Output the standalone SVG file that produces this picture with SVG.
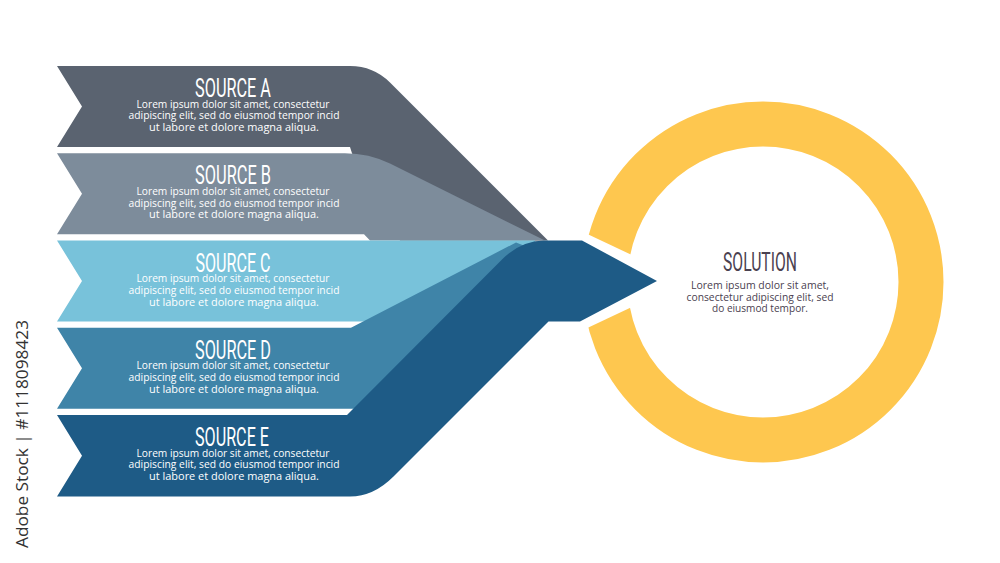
<svg xmlns="http://www.w3.org/2000/svg" width="1000" height="563" viewBox="0 0 1000 563">
<style>
.title{font-family:Roboto,"Liberation Sans",sans-serif;font-size:25px;fill:#fff;text-anchor:middle}
.body{font-family:"Open Sans","Liberation Sans",sans-serif;font-size:10.5px;fill:#fff;text-anchor:middle}
.stitle{font-family:Roboto,"Liberation Sans",sans-serif;font-size:25px;fill:#4a4150;text-anchor:middle}
.sbody{font-family:"Open Sans","Liberation Sans",sans-serif;font-size:10.5px;fill:#4a4150;text-anchor:middle}
</style>
<defs>
<mask id="gap">
<rect x="0" y="0" width="1000" height="563" fill="#fff"/>
<polygon points="560,221.2 687,281 560,340.8" fill="#000"/>
</mask>
</defs>
<rect width="1000" height="563" fill="#fff"/>
<g id="connectors">
<path id="bandA" d="M57,66 H350 Q373.5,66 390,82.5 L548,240.5 L400,240.5 L352,153.25 L350,147 H57 L82,106.5 Z" fill="#5a6370"/>
<path id="bandB" d="M57,153.25 H345 Q369,153.25 390,163.6 L545,240.5 H370 L364,234.25 H57 L82,193.75 Z" fill="#7d8c9b"/>
<path id="bandC" d="M57,240.5 H535 V321.5 H57 L82,281 Z" fill="#78c2da"/>
<path id="bandD" d="M57,327.75 H351 L516,242.5 L548,255 L356,408.75 H57 L82,368.25 Z" fill="#3f84a8"/>
<path id="bandE" d="M57,415 H347 L502,259.5 Q521,240.5 545,240.5 H582 L657,281 L580,321.5 H548.5 L393.5,476.5 Q373.5,496.5 350,496.5 H57 L82,455.75 Z" fill="#1e5b86"/>
</g>
<g id="sourceA">
<text class="title" x="233" y="97" textLength="76" lengthAdjust="spacingAndGlyphs">SOURCE A</text>
<text class="body" x="233" y="107.5" textLength="193" lengthAdjust="spacingAndGlyphs">Lorem ipsum dolor sit amet, consectetur</text>
<text class="body" x="234" y="119.3" textLength="211" lengthAdjust="spacingAndGlyphs">adipiscing elit, sed do eiusmod tempor incid</text>
<text class="body" x="234" y="131" textLength="170" lengthAdjust="spacingAndGlyphs">ut labore et dolore magna aliqua.</text>
</g>
<g id="sourceB">
<text class="title" x="233" y="184.25" textLength="76" lengthAdjust="spacingAndGlyphs">SOURCE B</text>
<text class="body" x="233" y="194.75" textLength="193" lengthAdjust="spacingAndGlyphs">Lorem ipsum dolor sit amet, consectetur</text>
<text class="body" x="234" y="206.55" textLength="211" lengthAdjust="spacingAndGlyphs">adipiscing elit, sed do eiusmod tempor incid</text>
<text class="body" x="234" y="218.25" textLength="170" lengthAdjust="spacingAndGlyphs">ut labore et dolore magna aliqua.</text>
</g>
<g id="sourceC">
<text class="title" x="233" y="271.5" textLength="75" lengthAdjust="spacingAndGlyphs">SOURCE C</text>
<text class="body" x="233" y="282" textLength="193" lengthAdjust="spacingAndGlyphs">Lorem ipsum dolor sit amet, consectetur</text>
<text class="body" x="234" y="293.8" textLength="211" lengthAdjust="spacingAndGlyphs">adipiscing elit, sed do eiusmod tempor incid</text>
<text class="body" x="234" y="305.5" textLength="170" lengthAdjust="spacingAndGlyphs">ut labore et dolore magna aliqua.</text>
</g>
<g id="sourceD">
<text class="title" x="233" y="358.75" textLength="76" lengthAdjust="spacingAndGlyphs">SOURCE D</text>
<text class="body" x="233" y="369.25" textLength="193" lengthAdjust="spacingAndGlyphs">Lorem ipsum dolor sit amet, consectetur</text>
<text class="body" x="234" y="381.05" textLength="211" lengthAdjust="spacingAndGlyphs">adipiscing elit, sed do eiusmod tempor incid</text>
<text class="body" x="234" y="392.75" textLength="170" lengthAdjust="spacingAndGlyphs">ut labore et dolore magna aliqua.</text>
</g>
<g id="sourceE">
<text class="title" x="232" y="446" textLength="74" lengthAdjust="spacingAndGlyphs">SOURCE E</text>
<text class="body" x="233" y="456.5" textLength="193" lengthAdjust="spacingAndGlyphs">Lorem ipsum dolor sit amet, consectetur</text>
<text class="body" x="234" y="468.3" textLength="211" lengthAdjust="spacingAndGlyphs">adipiscing elit, sed do eiusmod tempor incid</text>
<text class="body" x="234" y="480" textLength="170" lengthAdjust="spacingAndGlyphs">ut labore et dolore magna aliqua.</text>
</g>
<g id="solution">
<circle cx="763" cy="282" r="158" fill="none" stroke="#fec74f" stroke-width="45" mask="url(#gap)"/>
<text class="stitle" x="760" y="270.5" textLength="74" lengthAdjust="spacingAndGlyphs">SOLUTION</text>
<text class="sbody" x="760" y="289" textLength="138" lengthAdjust="spacingAndGlyphs">Lorem ipsum dolor sit amet,</text>
<text class="sbody" x="760" y="300.5" textLength="147" lengthAdjust="spacingAndGlyphs">consectetur adipiscing elit, sed</text>
<text class="sbody" x="760" y="312" textLength="96" lengthAdjust="spacingAndGlyphs">do eiusmod tempor.</text>
</g>
<text x="28" y="548" transform="rotate(-90 28 548)" font-family="'Open Sans','Liberation Sans',sans-serif" font-size="17" fill="#333" textLength="228" lengthAdjust="spacingAndGlyphs">Adobe Stock | #1118098423</text>
</svg>
